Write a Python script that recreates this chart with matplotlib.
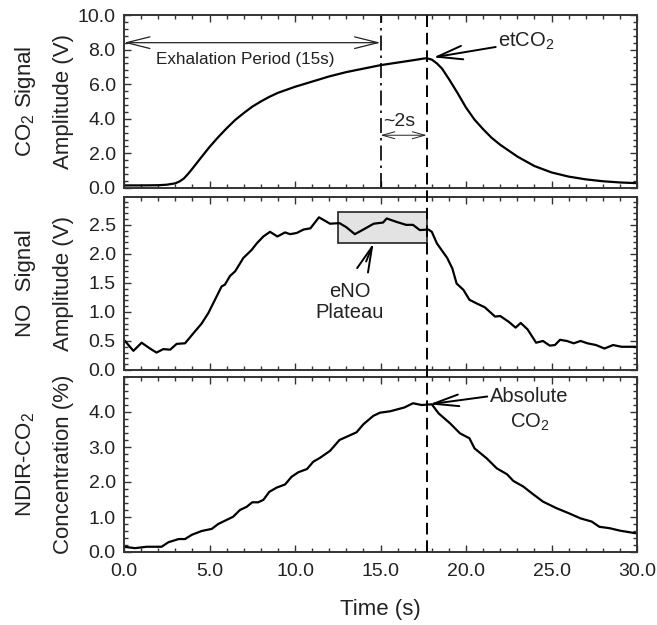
import matplotlib
matplotlib.use('Agg')
import matplotlib.pyplot as plt
from matplotlib.lines import Line2D
from matplotlib.ticker import MultipleLocator, FormatStrFormatter
import matplotlib.transforms as mtransforms

plt.rcParams['font.family'] = ['Liberation Sans', 'DejaVu Sans']
plt.rcParams['mathtext.fontset'] = 'custom'
plt.rcParams['mathtext.rm'] = 'Liberation Sans'

# CO2 signal amplitude (V)
co2_t = [0, 1, 2, 2.5, 3, 3.25, 3.5, 3.75, 4, 4.5, 5, 5.5, 6, 6.5, 7, 7.5, 8, 8.5,
         9, 10, 11, 12, 13, 14, 15, 16, 17, 17.5, 17.7, 18.0, 18.3, 18.6, 19, 19.5,
         20, 20.5, 21, 21.5, 22, 23, 24, 25, 26, 27, 28, 29, 30]
co2_v = [0.15, 0.15, 0.16, 0.19, 0.27, 0.38, 0.55, 0.82, 1.12, 1.75, 2.37, 2.93,
         3.45, 3.93, 4.33, 4.7, 5.0, 5.27, 5.5, 5.85, 6.15, 6.45, 6.7, 6.9, 7.1,
         7.25, 7.4, 7.48, 7.5, 7.42, 7.2, 6.9, 6.3, 5.5, 4.65, 3.95, 3.4, 2.9, 2.5,
         1.82, 1.27, 0.9, 0.66, 0.5, 0.39, 0.32, 0.28]

# NO signal amplitude (V)
no_t = [0.0, 0.55, 1.03, 1.52, 1.9, 2.3, 2.7, 3.08, 3.57, 4.05, 4.54, 4.93, 5.32,
        5.71, 5.9, 6.2, 6.5, 6.98, 7.47, 7.76, 8.15, 8.54, 8.97, 9.42, 9.71, 10.1,
        10.5, 10.9, 11.4, 12.05, 12.6, 13.0, 13.5, 14.0, 14.6, 15.15, 15.36, 15.95,
        16.5, 16.9, 17.3, 17.8, 18.0, 18.3, 18.9, 19.2, 19.45, 19.85, 20.2, 20.6,
        21.1, 21.7, 22.0, 22.5, 22.9, 23.2, 23.6, 24.1, 24.5, 24.9, 25.2, 25.5,
        25.9, 26.3, 26.7, 27.1, 27.6, 28.1, 28.6, 29.1, 30.0]
no_v = [0.52, 0.33, 0.47, 0.37, 0.30, 0.36, 0.35, 0.45, 0.46, 0.63, 0.80, 0.98,
        1.21, 1.44, 1.47, 1.62, 1.70, 1.93, 2.07, 2.18, 2.30, 2.38, 2.30, 2.37,
        2.34, 2.36, 2.42, 2.44, 2.63, 2.52, 2.53, 2.46, 2.34, 2.42, 2.52, 2.54,
        2.61, 2.55, 2.50, 2.50, 2.41, 2.42, 2.38, 2.18, 1.93, 1.75, 1.49, 1.38,
        1.21, 1.15, 1.08, 0.92, 0.93, 0.83, 0.73, 0.81, 0.70, 0.47, 0.50, 0.42,
        0.43, 0.52, 0.50, 0.46, 0.50, 0.46, 0.43, 0.37, 0.43, 0.40, 0.40]

# NDIR-CO2 concentration (%)
ndir_t = [0.0, 0.64, 1.33, 2.2, 2.6, 3.2, 3.57, 3.96, 4.54, 5.13, 5.51, 6.39, 6.78,
          7.17, 7.5, 7.85, 8.15, 8.5, 8.93, 9.42, 9.8, 10.2, 10.7, 11.07, 11.46,
          12.05, 12.6, 13.1, 13.6, 14.0, 14.58, 14.97, 15.56, 16.4, 16.9, 17.4,
          18.0, 18.4, 19.06, 19.65, 20.2, 20.5, 21.2, 21.8, 22.4, 22.77, 23.35,
          23.9, 24.5, 25.3, 26.0, 26.7, 27.35, 27.8, 28.4, 29.0, 30.0]
ndir_v = [0.15, 0.11, 0.15, 0.15, 0.28, 0.37, 0.37, 0.49, 0.60, 0.66, 0.80, 1.01,
          1.20, 1.29, 1.42, 1.42, 1.49, 1.72, 1.84, 1.93, 2.15, 2.28, 2.37, 2.58,
          2.69, 2.89, 3.20, 3.31, 3.42, 3.65, 3.89, 3.98, 4.02, 4.13, 4.25, 4.20,
          4.22, 3.96, 3.68, 3.39, 3.25, 2.96, 2.68, 2.39, 2.22, 2.03, 1.87, 1.66,
          1.44, 1.25, 1.11, 0.96, 0.87, 0.72, 0.68, 0.61, 0.53]

x_ticks = [0, 5, 10, 15, 20, 25, 30]
t_exhale = 15.0
t_end = 17.7

W, H = 657, 625
fig = plt.figure(figsize=(W / 100, H / 100), dpi=100)

left, right = 124 / W, 637 / W
boxes = [(15, 188), (197, 370), (377, 552)]
axes = []
for top, bot in boxes:
    ax = fig.add_axes([left, 1 - bot / H, right - left, (bot - top) / H])
    axes.append(ax)
ax1, ax2, ax3 = axes

spine_col = '#333333'
for ax in axes:
    ax.set_xlim(0, 30)
    ax.xaxis.set_major_locator(MultipleLocator(5))
    ax.xaxis.set_minor_locator(MultipleLocator(1))
    ax.tick_params(which='both', direction='in', top=True, right=True,
                   colors=spine_col, labelcolor='#222222', labelsize=14, width=1.0)
    ax.tick_params(which='major', length=5, pad=6)
    ax.tick_params(which='minor', length=3)
    for s in ax.spines.values():
        s.set_linewidth(1.4)
        s.set_color(spine_col)
    if ax is not ax3:
        ax.tick_params(labelbottom=False)

ax3.xaxis.set_major_formatter(FormatStrFormatter('%.1f'))
ax3.tick_params(axis='x', pad=8)

# panel 1
ax1.plot(co2_t, co2_v, color='black', lw=1.6)
ax1.set_ylim(0, 10)
ax1.set_yticks([0, 2, 4, 6, 8, 10])
ax1.yaxis.set_minor_locator(MultipleLocator(0.4))
ax1.yaxis.set_major_formatter(FormatStrFormatter('%.1f'))
ax1.axvline(t_exhale, color='black', lw=1.2, linestyle=(0, (9, 3, 1.5, 3)))

ax1.annotate('', xy=(0, 8.4), xytext=(t_exhale, 8.4),
             arrowprops=dict(arrowstyle='<->,head_length=1.4,head_width=0.35',
                             lw=0.9, color='#222222', shrinkA=0, shrinkB=0,
                             mutation_scale=12))
ax1.text(7.1, 7.42, 'Exhalation Period (15s)', ha='center', va='center',
         fontsize=12.3, color='#222222')
ax1.annotate('', xy=(t_exhale, 3.05), xytext=(t_end, 3.05),
             arrowprops=dict(arrowstyle='<->,head_length=0.9,head_width=0.25',
                             lw=0.7, color='#222222', shrinkA=0, shrinkB=0,
                             mutation_scale=10))
ax1.text(16.1, 3.85, '~2s', ha='center', va='center', fontsize=14, color='#222222')
ax1.annotate('etCO$_2$', xy=(18.1, 7.55), xytext=(21.9, 8.45),
             fontsize=14.5, va='center', ha='left', color='#222222',
             arrowprops=dict(arrowstyle='->,head_length=1.3,head_width=0.35',
                             lw=1.4, color='black', shrinkA=0, shrinkB=0,
                             mutation_scale=14))

# panel 2
ax2.plot(no_t, no_v, color='black', lw=1.6)
ax2.set_ylim(0, 2.98)
ax2.set_yticks([0, 0.5, 1.0, 1.5, 2.0, 2.5])
ax2.yaxis.set_minor_locator(MultipleLocator(0.1))
ax2.yaxis.set_major_formatter(FormatStrFormatter('%.1f'))
plateau = plt.Rectangle((12.53, 2.18), t_end - 12.53, 0.54, facecolor='#e3e3e3',
                        edgecolor='#222222', lw=1.2, zorder=1)
ax2.add_patch(plateau)
ax2.annotate('eNO\nPlateau', xy=(14.6, 2.19), xytext=(13.2, 1.17),
             fontsize=14.5, ha='center', va='center', color='#222222',
             linespacing=1.1,
             arrowprops=dict(arrowstyle='->,head_length=1.3,head_width=0.3',
                             lw=1.4, color='black', shrinkA=14, shrinkB=0,
                             mutation_scale=14))

# panel 3
ax3.plot(ndir_t, ndir_v, color='black', lw=1.6)
ax3.set_ylim(0, 5.0)
ax3.set_yticks([0, 1, 2, 3, 4])
ax3.yaxis.set_minor_locator(MultipleLocator(0.2))
ax3.yaxis.set_major_formatter(FormatStrFormatter('%.1f'))
ax3.set_xticks(x_ticks)
ax3.annotate('Absolute\nCO$_2$', xy=(17.85, 4.22), xytext=(23.7, 4.06),
             fontsize=14.5, ha='center', va='center', color='#222222',
             linespacing=1.35,
             arrowprops=dict(arrowstyle='->,head_length=1.3,head_width=0.3',
                             lw=1.4, color='black', shrinkA=0, shrinkB=0,
                             mutation_scale=14,
                             relpos=(0.0, 0.8)))
fig.text((124 + 637) / 2 / W, 1 - 609 / H, 'Time (s)', ha='center', va='center',
         fontsize=16, color='#222222')

# dashed line through all panels at end of exhalation
trans = mtransforms.blended_transform_factory(ax3.transData, fig.transFigure)
fig.add_artist(Line2D([t_end, t_end], [1 - 552 / H, 1 - 15 / H], transform=trans,
                      color='black', lw=1.4, linestyle=(0, (6, 3))))

# y labels, two lines each
labels = [('CO$_2$ Signal', 'Amplitude (V)'),
          ('NO  Signal', 'Amplitude (V)'),
          ('NDIR-CO$_2$', 'Concentration (%)')]
for (top, bot), (l1, l2) in zip(boxes, labels):
    yc = 1 - (top + bot) / 2 / H
    fig.text(26 / W, yc, l1, rotation=90, ha='center', va='center',
             fontsize=16, color='#222222')
    fig.text(64 / W, yc, l2, rotation=90, ha='center', va='center',
             fontsize=16, color='#222222')

plt.savefig('out.png', dpi=100)
